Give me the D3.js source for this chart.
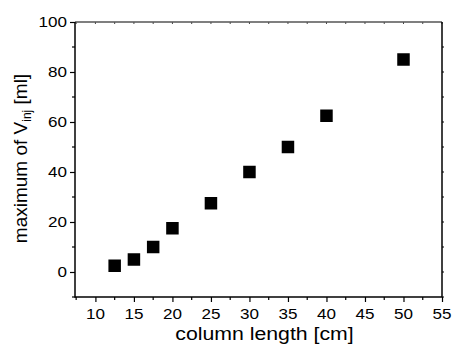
<!DOCTYPE html>
<html>
<head>
<meta charset="utf-8">
<script src="https://cdn.jsdelivr.net/npm/d3@7"></script>
<style>
  body { margin: 0; background: #fff; }
  text { font-family: "Liberation Sans", Arial, sans-serif; fill: #000; }
</style>
</head>
<body>
<script>
// column length [cm] and max injection volume [ml]
var columnLength = [12.5, 15, 17.5, 20, 25, 30, 35, 40, 50];
var maxVinj = [2.5, 5, 10, 17.5, 27.5, 40, 50, 62.5, 85];
var xTicks = [10, 15, 20, 25, 30, 35, 40, 45, 50, 55];
var yTicks = [0, 20, 40, 60, 80, 100];

var W = 452, H = 344;
var pLeft = 75, pRight = 442, pTop = 22, pBottom = 297;

var svg = d3.select("body").append("svg")
    .attr("width", W)
    .attr("height", H);

svg.append("rect").attr("width", W).attr("height", H).attr("fill", "#fff");

var x = d3.scaleLinear().domain([7.35, 55]).range([pLeft, pRight]);
var y = d3.scaleLinear().domain([-10, 100]).range([pBottom, pTop]);

// minor ticks every half step
var xMinor = d3.range(7.5, 55.1, 2.5).filter(function(d){ return xTicks.indexOf(d) < 0; });
var yMinor = d3.range(-10, 100, 10).filter(function(d){ return yTicks.indexOf(d) < 0; });

//Bottom axis
var gx = svg.append("g").attr("transform", "translate(0," + pBottom + ")");
gx.call(d3.axisBottom(x).tickValues(xTicks).tickSize(5).tickFormat(""));
gx.select(".domain").remove();
gx.selectAll(".tick line").attr("stroke", "#000").attr("stroke-width", 1.2);
gx.selectAll(".minor").data(xMinor).enter().append("line")
    .attr("x1", function(d){ return x(d); })
    .attr("x2", function(d){ return x(d); })
    .attr("y1", 0).attr("y2", 3)
    .attr("stroke", "#000").attr("stroke-width", 1.2);
gx.selectAll(".lbl").data(xTicks).enter().append("text")
    .attr("transform", function(d){ return "translate(" + x(d) + ",22) scale(1.22,1)"; })
    .attr("text-anchor", "middle")
    .attr("font-size", 14)
    .text(function(d){ return d; });

//Left axis
var gy = svg.append("g").attr("transform", "translate(" + pLeft + ",0)");
gy.call(d3.axisLeft(y).tickValues(yTicks).tickSize(5).tickFormat(""));
gy.select(".domain").remove();
gy.selectAll(".tick line").attr("stroke", "#000").attr("stroke-width", 1.2);
gy.selectAll(".minor").data(yMinor).enter().append("line")
    .attr("x1", -3).attr("x2", 0)
    .attr("y1", function(d){ return y(d); })
    .attr("y2", function(d){ return y(d); })
    .attr("stroke", "#000").attr("stroke-width", 1.2);
gy.selectAll(".lbl").data(yTicks).enter().append("text")
    .attr("transform", function(d){ return "translate(-8," + (y(d) + 5) + ") scale(1.22,1)"; })
    .attr("text-anchor", "end")
    .attr("font-size", 14)
    .text(function(d){ return d; });

//Top and right frame with small ticks
var xAll = d3.range(7.5, 55.1, 2.5);
svg.selectAll(".topTick").data(xAll).enter().append("line")
    .attr("x1", function(d){ return x(d); })
    .attr("x2", function(d){ return x(d); })
    .attr("y1", pTop).attr("y2", pTop + 2)
    .attr("stroke", "#444").attr("stroke-width", 1);
svg.selectAll(".rightTick").data(d3.range(-10, 100, 10)).enter().append("line")
    .attr("x1", pRight).attr("x2", pRight + 2)
    .attr("y1", function(d){ return y(d); })
    .attr("y2", function(d){ return y(d); })
    .attr("stroke", "#000").attr("stroke-width", 1);

svg.append("line").attr("x1", pLeft).attr("x2", pRight).attr("y1", pTop).attr("y2", pTop)
    .attr("stroke", "#555").attr("stroke-width", 1.5);
svg.append("line").attr("x1", pRight).attr("x2", pRight).attr("y1", pTop).attr("y2", pBottom)
    .attr("stroke", "#000").attr("stroke-width", 1.5);
svg.append("line").attr("x1", pLeft).attr("x2", pRight).attr("y1", pBottom).attr("y2", pBottom)
    .attr("stroke", "#000").attr("stroke-width", 1.5);
svg.append("line").attr("x1", pLeft).attr("x2", pLeft).attr("y1", pTop).attr("y2", pBottom + 0.75)
    .attr("stroke", "#000").attr("stroke-width", 1.5);

//Data squares
var sz = 12.5;
svg.selectAll(".pt").data(columnLength).enter().append("rect")
    .attr("x", function(d){ return x(d) - sz/2; })
    .attr("y", function(d, i){ return y(maxVinj[i]) - sz/2; })
    .attr("width", sz).attr("height", sz)
    .attr("fill", "#000");

//Axis titles
svg.append("text")
    .attr("transform", "translate(264.5,340) scale(1.15,1)")
    .attr("text-anchor", "middle")
    .attr("font-size", 18.5)
    .text("column length [cm]");

var yl = svg.append("text")
    .attr("transform", "translate(27,158.5) rotate(-90)")
    .attr("text-anchor", "middle")
    .attr("font-size", 19);
yl.append("tspan").text("maximum of V");
yl.append("tspan").attr("font-size", 12).attr("dy", 4).text("inj");
yl.append("tspan").attr("dy", -4).text(" [ml]");
</script>
</body>
</html>
